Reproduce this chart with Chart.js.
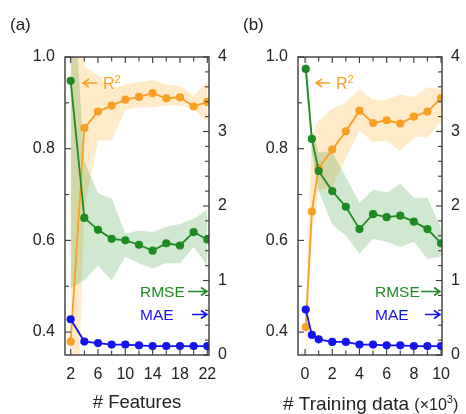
<!DOCTYPE html>
<html>
<head>
<meta charset="utf-8">
<script src="https://cdn.jsdelivr.net/npm/chart.js@4.4.1/dist/chart.umd.min.js"></script>
<style>
  html, body { margin: 0; padding: 0; background: #fff; }
  #wrap { position: relative; width: 466px; height: 414px; }
  .panel { position: absolute; top: 0; width: 233px; height: 414px; }
</style>
</head>
<body>
<div id="wrap">
  <div class="panel" style="left:0"><canvas id="chartA" width="233" height="414"></canvas></div>
  <div class="panel" style="left:233px"><canvas id="chartB" width="233" height="414"></canvas></div>
</div>
<script>
// ---- data: panel (a), vs number of features ----
const featX   = [2, 4, 6, 8, 10, 12, 14, 16, 18, 20, 22];
const r2A     = [0.379, 0.845, 0.881, 0.894, 0.907, 0.913, 0.921, 0.910, 0.912, 0.892, 0.902];
const r2AHi   = [1.30, 0.98, 0.96, 0.93, 0.94, 0.945, 0.95, 0.94, 0.937, 0.916, 0.946];
const r2ALo   = [-0.23, 0.67, 0.818, 0.818, 0.885, 0.89, 0.89, 0.895, 0.894, 0.888, 0.858];
const rmseA   = [3.68, 1.84, 1.68, 1.56, 1.54, 1.48, 1.40, 1.50, 1.47, 1.65, 1.55];
const rmseAHi = [5.5, 2.6, 2.17, 2.10, 1.63, 1.67, 1.65, 1.72, 1.76, 1.83, 1.95];
const rmseALo = [0.9, 1.0, 1.2, 1.0, 1.32, 1.23, 1.16, 1.23, 1.23, 1.45, 1.20];
const maeA    = [0.48, 0.18, 0.16, 0.14, 0.14, 0.13, 0.12, 0.12, 0.12, 0.12, 0.12];

// ---- data: panel (b), vs training data size (x10^3) ----
const trainX  = [0.05, 0.5, 1, 2, 3, 4, 5, 6, 7, 8, 9, 10];
const r2B     = [0.411, 0.663, 0.758, 0.798, 0.838, 0.883, 0.856, 0.862, 0.855, 0.870, 0.881, 0.910];
const r2BHi   = [0.45, 0.83, 0.86, 0.887, 0.90, 0.93, 0.907, 0.907, 0.918, 0.913, 0.934, 0.93];
const r2BLo   = [0.33, 0.62, 0.71, 0.716, 0.78, 0.84, 0.814, 0.818, 0.795, 0.825, 0.826, 0.858];
const rmseB   = [3.84, 2.90, 2.47, 2.20, 1.99, 1.69, 1.89, 1.85, 1.87, 1.79, 1.69, 1.50];
const rmseBHi = [4.2, 3.0, 2.72, 2.72, 2.39, 2.04, 2.22, 2.18, 2.30, 2.11, 2.11, 1.70];
const rmseBLo = [3.7, 2.7, 2.2, 1.75, 1.6, 1.36, 1.56, 1.52, 1.45, 1.52, 1.29, 1.32];
const maeB    = [0.61, 0.27, 0.21, 0.175, 0.175, 0.14, 0.14, 0.13, 0.13, 0.12, 0.12, 0.12];

// ---- tick labels ----
const leftTicks  = [0.4, 0.6, 0.8, 1.0];
const rightTicks = [0, 1, 2, 3, 4];
const xTicksA    = [2, 6, 10, 14, 18, 22];
const xTicksB    = [0, 2, 4, 6, 8, 10];

const ORANGE = '#f9a023', GREEN = '#1f8a24', BLUE = '#1414f0';
const ORANGE_BAND = 'rgba(255,170,40,0.25)', GREEN_BAND = 'rgba(40,150,40,0.22)';
const FONT = "'Liberation Sans', Arial, sans-serif";
const INK = '#222';

const pts = (xs, ys) => xs.map((x, i) => ({ x, y: ys[i] }));

function line(label, xs, ys, color, axis) {
    return { label, data: pts(xs, ys), yAxisID: axis, borderColor: color, backgroundColor: color,
             borderWidth: 1.8, pointRadius: 3.2, pointHoverRadius: 3.2, fill: false, tension: 0 };
}
function band(xs, ys, color, axis, fill) {
    return { data: pts(xs, ys), yAxisID: axis, borderWidth: 0, pointRadius: 0,
             backgroundColor: color, borderColor: 'transparent', fill, tension: 0 };
}

// frame + inward tick marks on all four sides
const frameTicks = {
    id: 'frameTicks',
    afterDatasetsDraw(chart, args, o) {
        const { ctx, chartArea: a, scales } = chart;
        ctx.save();
        ctx.strokeStyle = '#3a3a3a';
        ctx.lineWidth = 1.4;
        ctx.strokeRect(a.left, a.top, a.right - a.left, a.bottom - a.top);
        ctx.lineWidth = 1.1;
        const tick = (x1, y1, x2, y2) => { ctx.beginPath(); ctx.moveTo(x1, y1); ctx.lineTo(x2, y2); ctx.stroke(); };
        for (let v = o.xFrom; v <= o.xTo + 1e-9; v += o.xStep) {
            const px = scales.x.getPixelForValue(v);
            const len = o.xMajor.includes(+v.toFixed(2)) ? 6 : 4.5;
            tick(px, a.bottom, px, a.bottom - len);
            tick(px, a.top, px, a.top + len);
        }
        for (let v = 0.4; v <= 1.0001; v += 0.1) {
            const py = scales.y.getPixelForValue(v);
            const len = leftTicks.some(t => Math.abs(t - v) < 1e-6) ? 6 : 4;
            tick(a.left, py, a.left + len, py);
        }
        for (let v = 0; v <= 4.0001; v += 0.2) {
            const py = scales.y1.getPixelForValue(v);
            const len = rightTicks.some(t => Math.abs(t - v) < 1e-6) ? 6 : 4;
            tick(a.right, py, a.right - len, py);
        }
        ctx.restore();
    }
};

// annotations: panel letter, R2 / RMSE / MAE labels with arrows
function rich(ctx, parts, x, y, color) {
    ctx.fillStyle = color;
    ctx.textBaseline = 'alphabetic';
    ctx.textAlign = 'left';
    parts.forEach(p => {
        ctx.font = p.size + 'px ' + FONT;
        ctx.fillText(p.t, x, y + (p.dy || 0));
        x += ctx.measureText(p.t).width;
    });
}
function arrow(ctx, x1, x2, y, color) {
    // tip at x2
    const d = x2 > x1 ? 1 : -1;
    ctx.strokeStyle = color;
    ctx.lineWidth = 1.6;
    ctx.beginPath();
    ctx.moveTo(x1, y); ctx.lineTo(x2, y);
    ctx.moveTo(x2 - d * 6, y - 4); ctx.lineTo(x2, y); ctx.lineTo(x2 - d * 6, y + 4);
    ctx.stroke();
}
const notes = {
    id: 'notes',
    afterDraw(chart, args, o) {
        const ctx = chart.ctx;
        ctx.save();
        rich(ctx, [{ t: o.letter, size: 17 }], 10, 30, INK);
        arrow(ctx, 97, 83, 83, ORANGE);
        rich(ctx, [{ t: 'R', size: 16 }, { t: '2', size: 11, dy: -6 }], 103, 89, ORANGE);
        rich(ctx, [{ t: 'RMSE', size: 15.5 }], o.labelX, 297, GREEN);
        arrow(ctx, 188, 207, 291.5, GREEN);
        rich(ctx, [{ t: 'MAE', size: 15.5 }], o.labelX, 320, BLUE);
        arrow(ctx, 192, 207, 314.5, BLUE);
        if (o.title) rich(ctx, o.title, o.titleX, 410, INK);
        ctx.restore();
    }
};

const noGrid = { display: false, drawTicks: false };

function makeChart(id, xs, r2, r2Hi, r2Lo, rmse, rmseHi, rmseLo, mae, xRange, xTicks, extra) {
    return new Chart(document.getElementById(id), {
        type: 'line',
        data: {
            datasets: [
                line('MAE', xs, mae, BLUE, 'y1'),
                line('RMSE', xs, rmse, GREEN, 'y1'),
                line('R2', xs, r2, ORANGE, 'y'),
                band(xs, rmseHi, GREEN_BAND, 'y1', '+1'),
                band(xs, rmseLo, GREEN_BAND, 'y1', false),
                band(xs, r2Hi, ORANGE_BAND, 'y', '+1'),
                band(xs, r2Lo, ORANGE_BAND, 'y', false)
            ]
        },
        options: {
            responsive: false, animation: false,
            layout: { padding: { top: 57, left: 0, right: 0, bottom: 0 } },
            plugins: {
                legend: { display: false }, tooltip: { enabled: false },
                frameTicks: { xFrom: extra.xFrom, xTo: extra.xTo, xStep: extra.xStep, xMajor: xTicks },
                notes: extra.notes
            },
            scales: {
                x: {
                    type: 'linear', min: xRange[0], max: xRange[1],
                    grid: noGrid, border: { display: false },
                    afterBuildTicks: s => { s.ticks = xTicks.map(v => ({ value: v })); },
                    afterFit: s => { s.height = 59; },
                    ticks: { color: INK, font: { family: FONT, size: 16 }, padding: 10, maxRotation: 0 },
                    title: extra.xTitle
                },
                y: {
                    position: 'left', min: 0.35, max: 1.0,
                    grid: noGrid, border: { display: false },
                    afterBuildTicks: s => { s.ticks = leftTicks.map(v => ({ value: v })); },
                    afterFit: s => { s.width = 65; },
                    ticks: { color: INK, font: { family: FONT, size: 16 }, padding: 10, callback: v => v.toFixed(1) }
                },
                y1: {
                    position: 'right', min: 0, max: 4,
                    grid: noGrid, border: { display: false },
                    afterBuildTicks: s => { s.ticks = rightTicks.map(v => ({ value: v })); },
                    afterFit: s => { s.width = 24; },
                    ticks: { color: INK, font: { family: FONT, size: 16 }, padding: 9 }
                }
            }
        },
        plugins: [frameTicks, notes]
    });
}

makeChart('chartA', featX, r2A, r2AHi, r2ALo, rmseA, rmseAHi, rmseALo, maeA, [1.17, 22.25], xTicksA, {
    xFrom: 2, xTo: 22, xStep: 2,
    xTitle: { display: true, text: '# Features', color: INK, font: { family: FONT, size: 18.5 }, padding: 0 },
    notes: { letter: '(a)', labelX: 140 }
});

makeChart('chartB', trainX, r2B, r2BHi, r2BLo, rmseB, rmseBHi, rmseBLo, maeB, [-0.52, 10.07], xTicksB, {
    xFrom: 0, xTo: 10, xStep: 1,
    xTitle: { display: false },
    notes: {
        letter: '(b)', labelX: 142, titleX: 50,
        title: [{ t: '# Training data ', size: 19 }, { t: '(×10', size: 16 }, { t: '3', size: 11, dy: -7 }, { t: ')', size: 16 }]
    }
});
</script>
</body>
</html>
